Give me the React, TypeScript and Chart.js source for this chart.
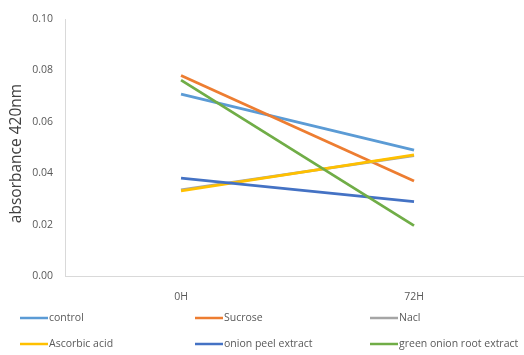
import React, { useEffect, useRef } from "react";
import { Chart, registerables } from "chart.js";

Chart.register(...registerables);

const timePoints = ["0H", "72H"];
const seriesNames = [
  "control",
  "Sucrose",
  "Nacl",
  "Ascorbic acid",
  "onion peel extract",
  "green onion root extract",
];
const seriesColors = ["#5B9BD5", "#ED7D31", "#A5A5A5", "#FFC000", "#4472C4", "#70AD47"];
const control = [0.0708, 0.049];
const sucrose = [0.078, 0.037];
const nacl = [0.0335, 0.0468];
const ascorbicAcid = [0.0331, 0.0471];
const onionPeelExtract = [0.0381, 0.0289];
const greenOnionRootExtract = [0.0762, 0.0196];
const yTicks = [0, 0.02, 0.04, 0.06, 0.08, 0.1];

const seriesValues = [control, sucrose, nacl, ascorbicAcid, onionPeelExtract, greenOnionRootExtract];

const FONT = "'Open Sans', 'DejaVu Sans', sans-serif";

// Two-row, three-column legend painted under the plot
const gridLegend = {
  id: "gridLegend",
  afterDraw(chart: any) {
    const ctx = chart.ctx;
    ctx.save();
    ctx.font = `10.5px ${FONT}`;
    ctx.textBaseline = "middle";
    ctx.textAlign = "left";
    chart.data.datasets.forEach((ds: any, i: number) => {
      const col = i % 3;
      const row = Math.floor(i / 3);
      const x = 20 + col * 175;
      const y = 318 + row * 26;
      ctx.strokeStyle = ds.borderColor;
      ctx.lineWidth = 2.5;
      ctx.beginPath();
      ctx.moveTo(x, y);
      ctx.lineTo(x + 28, y);
      ctx.stroke();
      ctx.fillStyle = "#595959";
      ctx.fillText(ds.label, x + 29, y);
    });
    ctx.restore();
  },
};

// Vertical axis title, rotated and set a little below the plot's middle
const yTitle = {
  id: "yTitle",
  afterDraw(chart: any) {
    const ctx = chart.ctx;
    const area = chart.chartArea;
    ctx.save();
    ctx.translate(16.5, (area.top + area.bottom) / 2 + 6);
    ctx.rotate(-Math.PI / 2);
    ctx.font = `15.5px ${FONT}`;
    ctx.fillStyle = "#404040";
    ctx.textAlign = "center";
    ctx.textBaseline = "middle";
    ctx.fillText("absorbance 420nm", 0, 0);
    ctx.restore();
  },
};

export default function App() {
  const ref = useRef<HTMLCanvasElement>(null);

  useEffect(() => {
    if (!ref.current) return;
    const chart = new Chart(ref.current, {
      type: "line",
      data: {
        datasets: seriesNames.map((name, i) => ({
          label: name,
          data: seriesValues[i].map((v, j) => ({ x: j, y: v })),
          borderColor: seriesColors[i],
          backgroundColor: seriesColors[i],
          borderWidth: 2.8,
          pointRadius: 0,
          tension: 0,
          order: seriesNames.length - i,
        })),
      },
      plugins: [gridLegend, yTitle],
      options: {
        animation: false,
        responsive: false,
        maintainAspectRatio: false,
        layout: { padding: { top: 19, right: 0, bottom: 49, left: 0 } },
        plugins: {
          legend: { display: false },
          tooltip: { enabled: false },
        },
        scales: {
          x: {
            type: "linear",
            min: -0.498,
            max: 1.472,
            afterBuildTicks: (axis: any) => {
              axis.ticks = timePoints.map((_, i) => ({ value: i }));
            },
            afterFit: (axis: any) => {
              axis.height = 30;
            },
            ticks: {
              callback: (v: any) => timePoints[v as number] ?? "",
              color: "#595959",
              font: { family: FONT, size: 10.5 },
              padding: 15,
              maxRotation: 0,
            },
            grid: { display: false, drawTicks: false },
            border: { display: true, color: "#D9D9D9", width: 1 },
          },
          y: {
            min: 0,
            max: 0.1,
            afterBuildTicks: (axis: any) => {
              axis.ticks = yTicks.map((v) => ({ value: v }));
            },
            afterFit: (axis: any) => {
              axis.width = 65;
            },
            ticks: {
              callback: (v: any) => Number(v).toFixed(2),
              color: "#595959",
              font: { family: FONT, size: 10.5 },
              padding: 12,
            },
            grid: { display: false, drawTicks: false },
            border: { display: true, color: "#D9D9D9", width: 1 },
          },
        },
      },
    });
    return () => chart.destroy();
  }, []);

  return (
    <div style={{ position: "fixed", left: 0, top: 0, width: 524, height: 355, background: "#fff" }}>
      <canvas ref={ref} width={524} height={355} style={{ display: "block" }} />
    </div>
  );
}
